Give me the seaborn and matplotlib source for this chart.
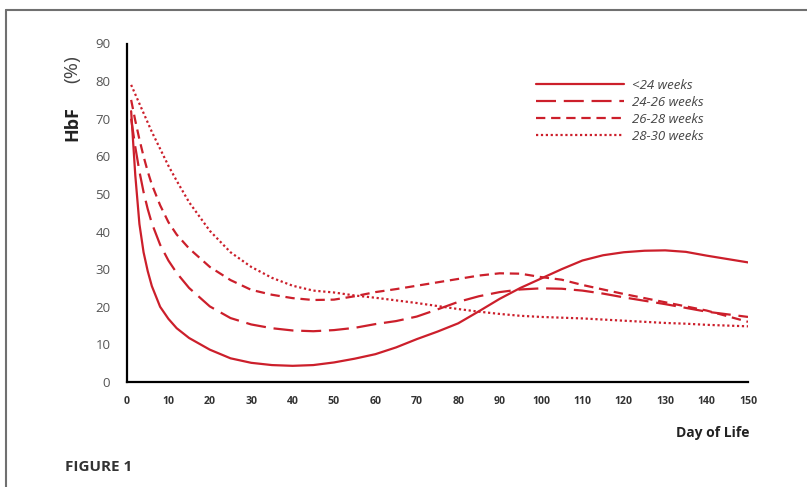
import numpy as np
import pandas as pd
import seaborn as sns
import matplotlib
matplotlib.use("Agg")
import matplotlib.pyplot as plt
from matplotlib.lines import Line2D

days = [1, 2, 3, 4, 5, 6, 8, 10, 12, 15, 20, 25, 30, 35, 40, 45, 50, 55, 60, 65, 70,
        75, 80, 85, 90, 95, 100, 105, 110, 115, 120, 125, 130, 135, 140, 145, 150]

lt24 = [72, 55, 42, 34.5, 29.5, 25.5, 20, 16.8, 14.3, 11.7, 8.6, 6.3, 5.1, 4.5, 4.3, 4.5, 5.2, 6.2,
        7.4, 9.2, 11.4, 13.4, 15.6, 18.8, 22.1, 25, 27.5, 30, 32.3, 33.7, 34.5, 34.9, 35, 34.6,
        33.6, 32.7, 31.8]
w24_26 = [70, 62.5, 56, 50.5, 46, 42.2, 36.5, 32.3, 29, 25, 20.1, 17, 15.3, 14.3, 13.7, 13.5, 13.8,
          14.4, 15.4, 16.2, 17.4, 19.3, 21.3, 22.8, 23.9, 24.6, 24.9, 24.8, 24.3, 23.5, 22.5, 21.6,
          20.7, 19.7, 18.7, 18, 17.3]
w26_28 = [75, 69.5, 64.5, 60, 56, 52.5, 47, 42.5, 39.2, 35.5, 30.6, 27.1, 24.5, 23.2, 22.3, 21.8,
          21.9, 22.8, 23.9, 24.7, 25.6, 26.5, 27.4, 28.3, 28.9, 28.8, 27.9, 27.2, 25.8, 24.6, 23.4,
          22.3, 21.2, 20.1, 19, 17.5, 16]
w28_30 = [79, 76.5, 74, 71.5, 69, 66.5, 62, 57.5, 53.5, 47.8, 40.2, 34.5, 30.6, 27.7, 25.6, 24.3,
          23.8, 23, 22.4, 21.7, 21, 20.2, 19.4, 18.7, 18.1, 17.6, 17.3, 17.1, 16.9, 16.6, 16.3, 16,
          15.7, 15.5, 15.2, 15, 14.8]

labels = ["<24 weeks", "24-26 weeks", "26-28 weeks", "28-30 weeks"]
series = [lt24, w24_26, w26_28, w28_30]
x_ticks = list(range(0, 151, 10))
y_ticks = list(range(0, 91, 10))

df = pd.concat([pd.DataFrame({"day": days, "hbf": s, "group": lab})
                for lab, s in zip(labels, series)], ignore_index=True)

RED = "#cc1f2b"
dash_map = {
    "<24 weeks": "",
    "24-26 weeks": (9, 3.5),
    "26-28 weeks": (4.2, 2.6),
    "28-30 weeks": (1.0, 1.2),
}

sns.set_style("white")
plt.rcParams["font.family"] = ["Open Sans", "DejaVu Sans"]

fig = plt.figure(figsize=(8.07, 4.87), dpi=100)
ax = fig.add_axes([127 / 807, 1 - 382 / 487, 621 / 807, 338.5 / 487])

sns.lineplot(data=df, x="day", y="hbf", hue="group", style="group",
             palette={l: RED for l in labels}, dashes=dash_map, linewidth=1.6,
             legend=False, ax=ax, sort=False)

ax.set_xlim(0, 150)
ax.set_ylim(0, 90)
ax.set_xticks(x_ticks)
ax.set_yticks(y_ticks)
ax.set_xticklabels([str(t) for t in x_ticks], fontsize=7.6, fontweight="bold", color="#333333")
ax.set_yticklabels([str(t) for t in y_ticks], fontsize=9.5, color="#555555")
ax.tick_params(axis="both", direction="out", length=4, width=1.4, color="black")
ax.tick_params(axis="x", pad=6)
ax.tick_params(axis="y", pad=8)
for side in ["top", "right"]:
    ax.spines[side].set_visible(False)
for side in ["left", "bottom"]:
    ax.spines[side].set_color("black")
    ax.spines[side].set_linewidth(1.6)
ax.set_xlabel("")
ax.set_ylabel("")

handles = []
for lab in labels:
    d = dash_map[lab]
    if d == "":
        h = Line2D([0], [0], color=RED, lw=1.6)
    else:
        h = Line2D([0], [0], color=RED, lw=1.6, linestyle=(0, d))
    handles.append(h)
leg = ax.legend(handles, labels, loc="upper left", bbox_to_anchor=(524 / 807, 1 - 67 / 487),
                bbox_transform=fig.transFigure, frameon=False, handlelength=6.7,
                handletextpad=0.55, labelspacing=0.3, prop={"size": 9.5, "style": "italic"})
for t in leg.get_texts():
    t.set_color("#444444")

fig.text(72 / 807, 1 - 124 / 487, "HbF", rotation=90, fontsize=13, fontweight="bold",
         ha="center", va="center", color="#222222")
fig.text(72 / 807, 1 - 69 / 487, "(%)", rotation=90, fontsize=14,
         ha="center", va="center", color="#444444")
fig.text(750 / 807, 1 - 433 / 487, "Day of Life", fontsize=10, fontweight="bold",
         ha="right", va="center", color="#222222")
fig.text(65 / 807, 1 - 467 / 487, "FIGURE 1", fontsize=11, fontweight="bold",
         ha="left", va="center", color="#333333")

fig.add_artist(Line2D([6 / 807, 1], [1 - 10 / 487, 1 - 10 / 487], transform=fig.transFigure,
                      color="#707070", lw=1.5))
fig.add_artist(Line2D([6 / 807, 6 / 807], [0, 1 - 10 / 487], transform=fig.transFigure,
                      color="#707070", lw=1.5))

fig.savefig("out.png", dpi=100)
